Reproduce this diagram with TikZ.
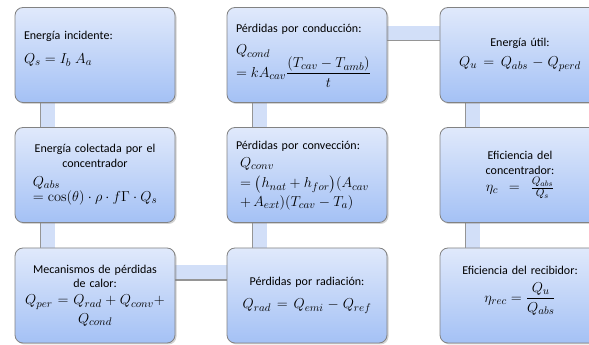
\documentclass[tikz,border=0pt]{standalone}
\usepackage{amsmath}
\usepackage[no-math]{fontspec}
\setmainfont{Carlito}
\DeclareMathSizes{12}{14}{10.5}{8}
\usetikzlibrary{backgrounds,shadows}
\definecolor{boxtop}{RGB}{224,233,251}
\definecolor{boxbot}{RGB}{164,193,245}
\definecolor{barfill}{RGB}{210,223,248}
\definecolor{edgegray}{RGB}{130,130,130}

\begin{document}
\begin{tikzpicture}[x=1pt,y=1pt,
	box/.style={draw=edgegray, line width=0.8pt, rounded corners=8pt, top color=boxtop, bottom color=boxbot,
		minimum width=160pt, minimum height=95pt, text width=150pt, align=center, inner sep=0pt,
		font=\fontsize{12}{14.5}\selectfont,
		drop shadow={shadow xshift=1.5pt, shadow yshift=-1.5pt, opacity=0.35}},
	vbar/.style={draw=barfill, line width=15pt, postaction={draw=edgegray!85, line width=1.3pt, transform canvas={xshift=-7pt}}},
	hbar/.style={draw=barfill, line width=15pt, postaction={draw=edgegray!85, line width=1.3pt, transform canvas={yshift=-7pt}}}]
	\useasboundingbox (0,0) rectangle (589,345);
	\node[box, align=left] (inc) at (95,290) {\begin{tabular}{@{\ }l@{}}Energía incidente:\\[10pt] $Q_s = I_b\;A_a$\\[13pt]\end{tabular}};
	\node[box, align=left] (cond) at (307,290) {\begin{tabular}{@{\ }l@{}}Pérdidas por conducción:\\[7pt]
		$Q_{cond}$\\[-2pt] $= kA_{cav}\dfrac{(T_{cav}-T_{amb})}{t}$\end{tabular}};
	\node[box] (util) at (520,290) {Energía útil:\\ \rule{0pt}{17pt}$Q_u = Q_{abs} - Q_{perd}$};
	
	\node[box] (colect) at (95,170) {Energía colectada por el\\ concentrador\\
		\begin{tabular}{@{}l@{}}\rule{0pt}{18pt}$Q_{abs}$\\[0pt] $=\cos(\theta)\cdot\rho\cdot f\Gamma\cdot Q_s$\end{tabular}};
	\node[box, align=left] (conv) at (307,170) {\begin{tabular}{@{\ }l@{}}Pérdidas por convección:\\[3pt]
		\ $Q_{conv}$\\[4pt] \ $=\bigl(h_{nat}+h_{for}\bigr)(A_{cav}$\\[3pt] \ $+\,A_{ext})(T_{cav}-T_a)$\end{tabular}};
	\node[box] (efconc) at (520,170) {Eficiencia del\\ concentrador:\\ \rule{0pt}{16pt}$\eta_c = \frac{Q_{abs}}{Q_s}$};
	
	\node[box] (mecan) at (95,49.5) {Mecanismos de pérdidas\\ de calor:\\ \rule{0pt}{16pt}$Q_{per} = Q_{rad} + Q_{conv} +$\\ \rule{0pt}{13pt}$Q_{cond}$};
	\node[box] (rad) at (307,49.5) {Pérdidas por radiación:\\ \rule{0pt}{20pt}$Q_{rad} = Q_{emi} - Q_{ref}$};
	\node[box] (efrec) at (520,49.5) {\begin{tabular}{@{}c@{}}Eficiencia del recibidor:\\[4pt] $\eta_{rec} = \dfrac{Q_u}{Q_{abs}}$\\[20pt]\end{tabular}};
	
	\begin{scope}[on background layer]
	\draw[vbar] ([xshift=-47.5pt]inc.south) -- ([xshift=-47.5pt]colect.north);
	\draw[vbar] ([xshift=-47.5pt]colect.south) -- ([xshift=-47.5pt]mecan.north);
	\draw[hbar] ([yshift=22.5pt]mecan.east) -- ([yshift=22.5pt]rad.west);
	\draw[vbar] ([xshift=-47.5pt]rad.north) -- ([xshift=-47.5pt]conv.south);
	\draw[vbar] ([xshift=-47.5pt]conv.north) -- ([xshift=-47.5pt]cond.south);
	\draw[hbar] ([yshift=21.5pt]cond.east) -- ([yshift=21.5pt]util.west);
	\draw[vbar] ([xshift=-47.5pt]util.south) -- ([xshift=-47.5pt]efconc.north);
	\draw[vbar] ([xshift=-47.5pt]efconc.south) -- ([xshift=-47.5pt]efrec.north);
	\end{scope}
\end{tikzpicture}
\end{document}
